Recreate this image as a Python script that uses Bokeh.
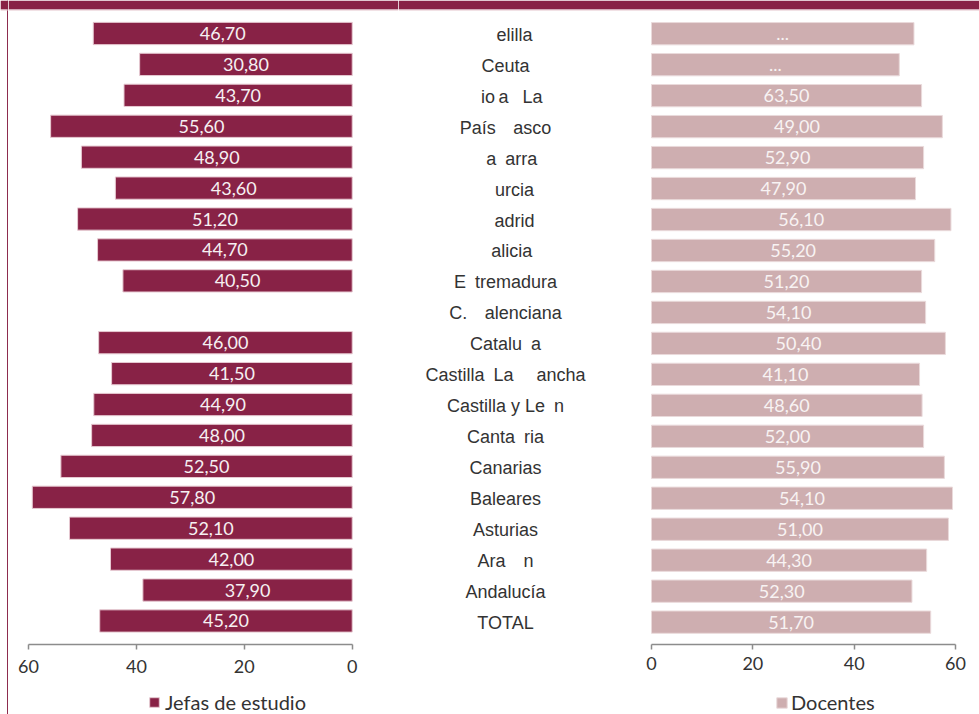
import numpy as np
from bokeh.plotting import figure
from bokeh.models import Range1d, FixedTicker, Legend, LegendItem, Span, ColumnDataSource
from bokeh.layouts import row, column
from bokeh.core.properties import value
from bokeh.embed import file_html
from bokeh.resources import INLINE

# ---------------- data ----------------
M = "\u2003"          # invisible wide glyph
W = "\u2002\u2009"    # invisible medium glyph
N = "\u2002"          # invisible narrow glyph
regions = [
    M + "elilla",
    "Ceuta",
    W + "io\u2009a" + N + " La",
    "País " + W + "asco",
    W + "a" + N + "arra",
    M + "urcia",
    M + "adrid",
    W + "alicia",
    "E" + N + "tremadura",
    "C. " + W + "alenciana",
    "Catalu" + N + "a",
    "Castilla" + N + "La " + M + "ancha",
    "Castilla y Le" + N + "n",
    "Canta" + N + "ria",
    "Canarias",
    "Baleares",
    "Asturias",
    "Ara" + N + N + "n",
    "Andalucía",
    "TOTAL",
]

# bar lengths as drawn
jefas_bar = [48.0, 39.4, 42.3, 55.9, 50.2, 43.9, 50.9, 47.2, 42.5, np.nan,
             47.0, 44.6, 47.9, 48.3, 54.0, 59.3, 52.4, 44.8, 38.8, 46.8]
jefas_text = ["46,70", "30,80", "43,70", "55,60", "48,90", "43,60", "51,20", "44,70", "40,50", "",
              "46,00", "41,50", "44,90", "48,00", "52,50", "57,80", "52,10", "42,00", "37,90", "45,20"]

docentes_bar = [51.8, 48.9, 53.3, 57.4, 53.7, 52.1, 59.1, 55.9, 53.3, 54.1,
                58.0, 52.9, 53.4, 53.7, 57.8, 59.4, 58.6, 54.3, 51.4, 55.1]
docentes_text = ["...", "...", "63,50", "49,00", "52,90", "47,90", "56,10", "55,20", "51,20", "54,10",
                 "50,40", "41,10", "48,60", "52,00", "55,90", "54,10", "51,00", "44,30", "52,30", "51,70"]

ticks = [0, 20, 40, 60]
series_names = ["Jefas de estudio", "Docentes"]

# ---------------- style ----------------
MAROON = "#882246"
ROSE = "#CEAEB0"
LEFT_LINE = "#E6C9D1"
RIGHT_LINE = "#EADADB"
NUMFONT = "Lato"
NAMEFONT = "Liberation Sans"
H_TOP = 691
H_LEG = 23
BORDER_BOTTOM = 47
rows_idx = np.arange(len(regions))


def bare(p):
    p.grid.visible = False
    p.outline_line_color = None
    p.min_border_left = p.min_border_right = p.min_border_top = 0


def style_axis(p, standoff):
    ax = p.xaxis[0]
    ax.ticker = FixedTicker(ticks=ticks)
    ax.bounds = (0, 60)
    ax.axis_line_color = "#8C8C8C"
    ax.axis_line_width = 1.5
    ax.major_tick_line_color = "#8C8C8C"
    ax.major_tick_line_width = 1.5
    ax.major_tick_out = 5
    ax.major_tick_in = 0
    ax.minor_tick_line_color = None
    ax.major_label_text_font = NUMFONT
    ax.major_label_text_font_size = "18px"
    ax.major_label_text_color = "#333333"
    ax.major_label_standoff = standoff
    bare(p)


def top_band(p):
    p.add_layout(Span(location=4.5, dimension="width", location_units="canvas",
                      line_color=MAROON, line_width=9))
    p.add_layout(Span(location=9.5, dimension="width", location_units="canvas",
                      line_color="#E3C3CC", line_width=1))


# ---------------- left edge strip ----------------
edge = figure(width=8, height=H_TOP + H_LEG, output_backend="svg", toolbar_location=None,
              x_axis_location=None, y_axis_location=None, min_border_bottom=0)
bare(edge)
edge.add_layout(Span(location=7.2, dimension="height", location_units="canvas",
                     line_color=MAROON, line_width=1.3))
top_band(edge)

# ---------------- left panel ----------------
pL = figure(width=390, height=H_TOP, output_backend="svg", toolbar_location=None,
            x_range=Range1d(63.71, -8.58), y_range=Range1d(19.761, -1.0673),
            min_border_bottom=BORDER_BOTTOM, y_axis_location=None)
style_axis(pL, 10)
jb = np.array(jefas_bar, dtype=float)
srcL = ColumnDataSource(dict(y=rows_idx, right=jb, mid=jb / 2, label=jefas_text))
pL.hbar(y="y", left=0, right="right", height=0.72, source=srcL,
        fill_color=MAROON, line_color=LEFT_LINE, line_width=1)
pL.text(x="mid", y="y", text="label", source=srcL, text_align="center", text_baseline="middle",
        text_font=value(NUMFONT), text_font_size="18px", text_color="#F6F0F2")
top_band(pL)

# ---------------- right panel ----------------
pR = figure(width=581, height=H_TOP, output_backend="svg", toolbar_location=None,
            x_range=Range1d(-49.93, 64.73), y_range=Range1d(19.722, -1.072),
            min_border_bottom=BORDER_BOTTOM, y_axis_location=None)
style_axis(pR, 7)
db = np.array(docentes_bar, dtype=float)
srcR = ColumnDataSource(dict(y=rows_idx, right=db, mid=db / 2, label=docentes_text, region=regions))
pR.hbar(y="y", left=0, right="right", height=0.72, source=srcR,
        fill_color=ROSE, line_color=RIGHT_LINE, line_width=1)
pR.text(x="mid", y="y", text="label", source=srcR, text_align="center", text_baseline="middle",
        text_font=value(NUMFONT), text_font_size="18px", text_color="#F8F3F3")
pR.text(x=0, y="y", text="region", source=srcR, x_offset=-146, y_offset=1, text_align="center",
        text_baseline="middle", text_font=value(NAMEFONT), text_font_size="18px",
        text_color="#333333")
top_band(pR)

# ---------------- legend strip ----------------
lg = figure(width=971, height=H_LEG, output_backend="svg", toolbar_location=None,
            x_range=Range1d(0, 1), y_range=Range1d(0, 1),
            x_axis_location=None, y_axis_location=None, min_border_bottom=0)
bare(lg)
# hidden copies of the two bar series, used only as legend swatches
dL = lg.hbar(y="y", left=0, right="right", height=0.72, source=srcL,
             fill_color=MAROON, line_color=LEFT_LINE, visible=False)
dR = lg.hbar(y="y", left=0, right="right", height=0.72, source=srcR,
             fill_color=ROSE, line_color=RIGHT_LINE, visible=False)


def make_legend(label, renderer, loc, glyph, standoff):
    return Legend(items=[LegendItem(label=label, renderers=[renderer])], location=loc,
                  orientation="horizontal", padding=0, margin=0, border_line_color=None,
                  background_fill_alpha=0, glyph_width=glyph, glyph_height=glyph,
                  label_standoff=standoff, label_text_font=NUMFONT,
                  inactive_fill_alpha=0,
                  label_text_font_size="20px", label_text_color="#333333")


lg.add_layout(make_legend(series_names[0], dL, (140, 0), 12, 5))
lg.add_layout(make_legend(series_names[1], dR, (767, 0), 13, 3))

layout = row(edge, column(row(pL, pR), lg))
open("out.html", "w").write(file_html(layout, INLINE))
